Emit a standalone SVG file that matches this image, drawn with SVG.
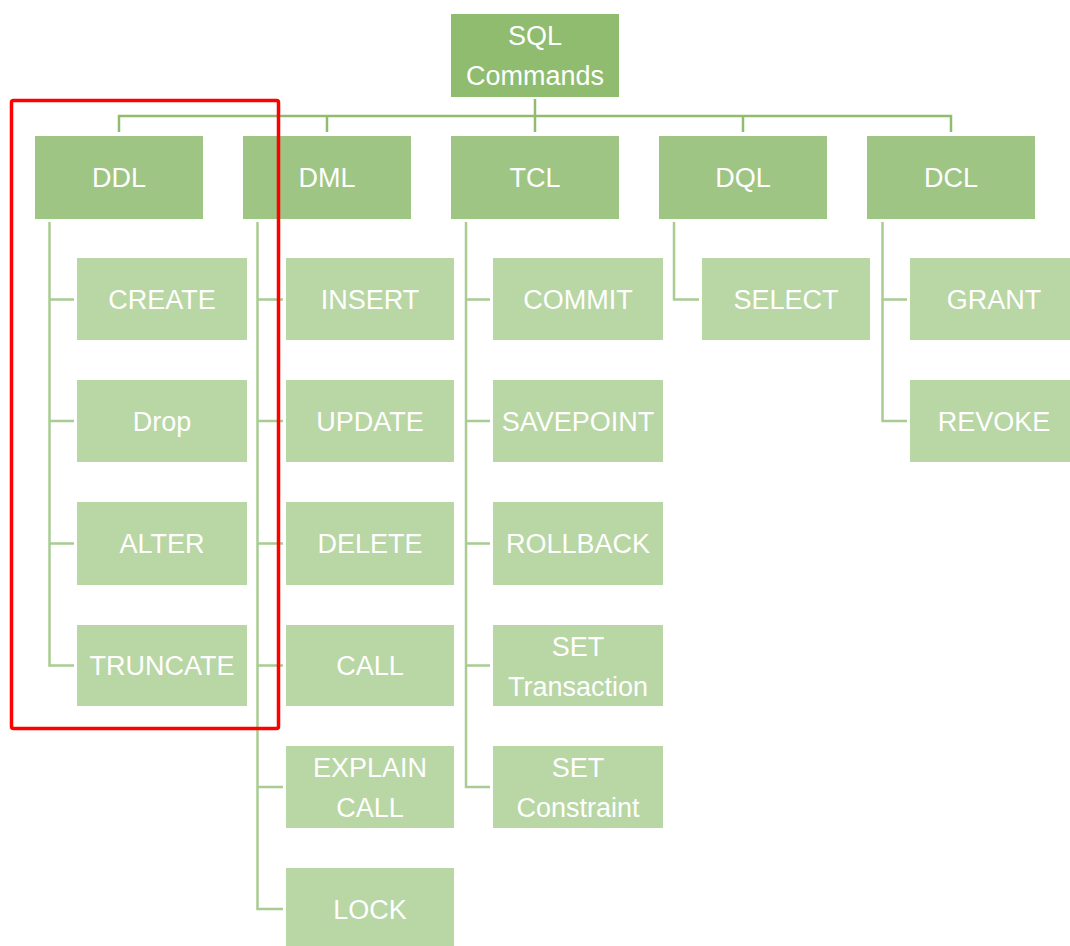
<svg xmlns="http://www.w3.org/2000/svg" width="1070" height="946" viewBox="0 0 1070 946">
<style>
.root{fill:#8fbc6f}
.l1{fill:#9ec583}
.l2{fill:#b9d6a5}
.bus{fill:none;stroke:#8fbc6f;stroke-width:2.5}
.sub{fill:none;stroke:#a9cc93;stroke-width:2.5}
text{font-family:"Liberation Sans",Arial,sans-serif;font-size:27px;fill:#ffffff;text-anchor:middle}
</style>
<rect width="1070" height="946" fill="#ffffff"/>
<g id="connectors">
<path class="bus" d="M535 99V116M119 132V116H951V132M327 116V132M535 116V132M743 116V132"/>
<path class="sub" d="M49.5 222V665.5H74M49.5 299.5H74M49.5 421H74M49.5 543.5H74"/>
<path class="sub" d="M257.5 222V909H283M257.5 299.5H283M257.5 421H283M257.5 543.5H283M257.5 665.5H283M257.5 787H283"/>
<path class="sub" d="M466 222V787H490M466 299.5H490M466 421H490M466 543.5H490M466 665.5H490"/>
<path class="sub" d="M674 222V299.5H699"/>
<path class="sub" d="M882.5 222V421H907M882.5 299.5H907"/>
</g>
<g id="n-root"><rect class="root" x="451" y="14" width="168" height="83"/><text x="535" y="44.5">SQL</text><text x="535" y="84.5">Commands</text></g>
<g id="n-ddl"><rect class="l1" x="35" y="136" width="168" height="83"/><text x="119" y="187">DDL</text></g>
<g id="n-dml"><rect class="l1" x="243" y="136" width="168" height="83"/><text x="327" y="187">DML</text></g>
<g id="n-tcl"><rect class="l1" x="451" y="136" width="168" height="83"/><text x="535" y="187">TCL</text></g>
<g id="n-dql"><rect class="l1" x="659" y="136" width="168" height="83"/><text x="743" y="187">DQL</text></g>
<g id="n-dcl"><rect class="l1" x="867" y="136" width="168" height="83"/><text x="951" y="187">DCL</text></g>

<g id="n-create"><rect class="l2" x="77" y="258" width="170" height="82"/><text x="162" y="309">CREATE</text></g>
<g id="n-drop"><rect class="l2" x="77" y="380" width="170" height="82"/><text x="162" y="430.5">Drop</text></g>
<g id="n-alter"><rect class="l2" x="77" y="502" width="170" height="83"/><text x="162" y="553">ALTER</text></g>
<g id="n-truncate"><rect class="l2" x="77" y="625" width="170" height="81"/><text x="162" y="675">TRUNCATE</text></g>

<g id="n-insert"><rect class="l2" x="286" y="258" width="168" height="82"/><text x="370" y="309">INSERT</text></g>
<g id="n-update"><rect class="l2" x="286" y="380" width="168" height="82"/><text x="370" y="430.5">UPDATE</text></g>
<g id="n-delete"><rect class="l2" x="286" y="502" width="168" height="83"/><text x="370" y="553">DELETE</text></g>
<g id="n-call"><rect class="l2" x="286" y="625" width="168" height="81"/><text x="370" y="675">CALL</text></g>
<g id="n-explain"><rect class="l2" x="286" y="746" width="168" height="82"/><text x="370" y="777">EXPLAIN</text><text x="370" y="817">CALL</text></g>
<g id="n-lock"><rect class="l2" x="286" y="868" width="168" height="82"/><text x="370" y="919">LOCK</text></g>

<g id="n-commit"><rect class="l2" x="493" y="258" width="170" height="82"/><text x="578" y="309">COMMIT</text></g>
<g id="n-savepoint"><rect class="l2" x="493" y="380" width="170" height="82"/><text x="578" y="430.5">SAVEPOINT</text></g>
<g id="n-rollback"><rect class="l2" x="493" y="502" width="170" height="83"/><text x="578" y="553">ROLLBACK</text></g>
<g id="n-settrans"><rect class="l2" x="493" y="625" width="170" height="81"/><text x="578" y="655.5">SET</text><text x="578" y="695.5">Transaction</text></g>
<g id="n-setcons"><rect class="l2" x="493" y="746" width="170" height="82"/><text x="578" y="777">SET</text><text x="578" y="817">Constraint</text></g>

<g id="n-select"><rect class="l2" x="702" y="258" width="168" height="82"/><text x="786" y="309">SELECT</text></g>

<g id="n-grant"><rect class="l2" x="910" y="258" width="168" height="82"/><text x="994" y="309">GRANT</text></g>
<g id="n-revoke"><rect class="l2" x="910" y="380" width="168" height="82"/><text x="994" y="430.5">REVOKE</text></g>

<rect id="highlight" x="11.5" y="100.5" width="267" height="628" rx="2" fill="none" stroke="#ff0000" stroke-width="3.5"/>
</svg>
